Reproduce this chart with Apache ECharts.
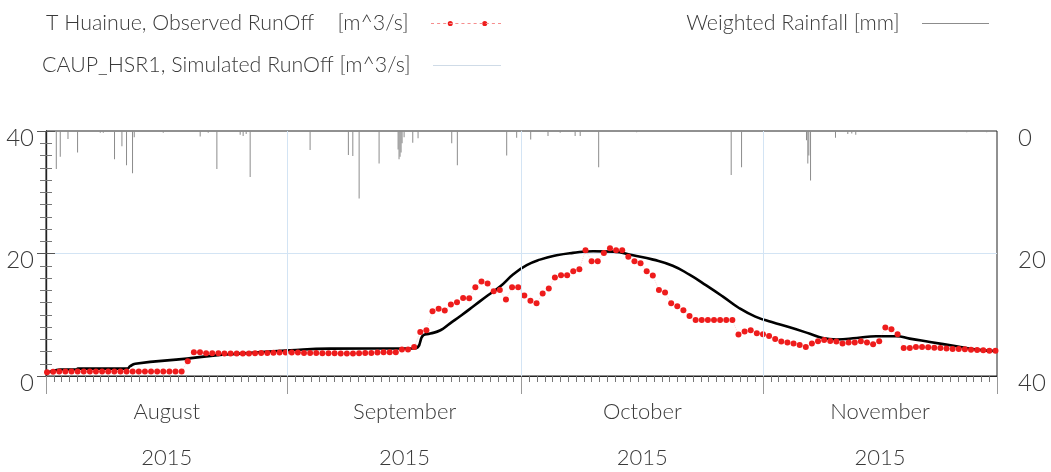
<!DOCTYPE html>
<html>
<head>
<meta charset="utf-8">
<script src="https://cdn.jsdelivr.net/npm/echarts@6/dist/echarts.min.js"></script>
<style>
html,body{margin:0;padding:0;background:#fff;}
#chart{width:1051px;height:472px;}
</style>
</head>
<body>
<div id="chart"></div>
<script>
// ---------- data ----------
const seriesNames = ['T Huainue, Observed RunOff    [m^3/s]', 'CAUP_HSR1, Simulated RunOff [m^3/s]', 'Weighted Rainfall [mm]'];
const monthLabels = ['August', 'September', 'October', 'November'];
const yearLabel = '2015';
const monthStarts = ['2015-08-01', '2015-09-01', '2015-10-01', '2015-11-01', '2015-12-01'];
const yTickLabels = [0, 20, 40];

// observed runoff: first sample (days after 1 Aug) and spacing between samples (days)
const obsStartDay = 0.13;
const obsStepDay = 0.785;
const observed = [
  0.6, 0.7, 0.75, 0.75, 0.75, 0.75, 0.75, 0.75, 0.75, 0.75,
  0.75, 0.75, 0.75, 0.75, 0.75, 0.75, 0.75, 0.75, 0.75, 0.75,
  0.75, 0.75, 0.75, 2.4, 3.87, 3.87, 3.7, 3.7, 3.7, 3.66,
  3.66, 3.66, 3.66, 3.66, 3.7, 3.75, 3.75, 3.8, 3.82, 3.82,
  3.82, 3.82, 3.77, 3.77, 3.77, 3.71, 3.71, 3.71, 3.66, 3.66,
  3.66, 3.71, 3.77, 3.77, 3.82, 3.87, 3.87, 3.87, 4.31, 4.31,
  4.74, 7.19, 7.47, 10.57, 11.0, 10.7, 11.66, 12.04, 12.75, 12.7,
  14.5, 15.42, 15.1, 13.84, 14.05, 12.48, 14.5, 14.5, 13.15, 12.3,
  11.88, 13.46, 14.28, 16.07, 16.44, 16.44, 17.1, 17.43, 20.54, 18.74,
  18.74, 20.1, 20.87, 20.54, 20.54, 19.45, 18.74, 18.41, 17.1, 16.4,
  14.05, 13.62, 11.88, 11.39, 10.74, 9.8, 9.15, 9.15, 9.15, 9.15,
  9.15, 9.15, 9.15, 6.76, 7.25, 7.47, 7.0, 6.8, 6.54, 6.05,
  5.62, 5.46, 5.29, 5.07, 4.74, 5.29, 5.67, 5.88, 5.72, 5.62,
  5.29, 5.46, 5.46, 5.67, 5.46, 5.18, 5.67, 7.9, 7.63, 6.81,
  4.58, 4.58, 4.74, 4.74, 4.69, 4.63, 4.58, 4.47, 4.41, 4.41,
  4.36, 4.3, 4.25, 4.2, 4.14, 4.14
];

// simulated runoff (days after 1 Aug, value)
const simDay = [0, 1.19, 1.8, 3.9, 4.1, 10.4, 10.8, 11.45, 18.1, 21.45, 24.9, 31.3, 36.4, 47.1, 47.7, 48.4, 49.3, 50.6, 51.8, 53.3, 55.0, 56.7, 58.25, 59.95, 61.67, 63.37, 65.5, 67.6, 70.2, 72.8, 75.3, 77.9, 80.4, 82.6, 84.7, 86.8, 88.9, 91.0, 93.1, 95.4, 98.0, 99.65, 101.4, 104.0, 106.5, 109.1, 110.8, 113.4, 116.8, 119.4, 121.9];
const simVal = [0.5, 0.93, 1.05, 1.05, 1.2, 1.2, 1.6, 2.0, 2.84, 3.33, 3.66, 4.2, 4.47, 4.5, 4.7, 6.65, 6.92, 7.47, 8.56, 9.92, 11.55, 13.18, 14.6, 16.6, 18.1, 19.0, 19.7, 20.1, 20.37, 20.3, 19.7, 19.0, 18.0, 16.5, 14.8, 13.0, 11.1, 9.7, 8.8, 7.95, 6.9, 6.2, 5.97, 6.2, 6.5, 6.5, 6.1, 5.56, 4.85, 4.3, 4.08];

// weighted rainfall (days after 1 Aug, mm)
const rainDay = [1.32, 1.83, 2.82, 4.05, 6.96, 7.35, 8.79, 9.74, 10.33, 11.1, 11.32, 15.04, 19.78, 20.81, 21.92, 24.91, 25.29, 25.68, 26.19, 33.88, 38.79, 39.36, 40.17, 42.73, 45.17, 45.29, 45.42, 45.55, 45.68, 45.94, 47.05, 47.73, 52.05, 52.77, 59.1, 60.38, 62.18, 64.4, 65.96, 67.88, 68.53, 70.9, 75.77, 87.9, 89.23, 97.56, 97.73, 97.86, 98.08, 101.28, 102.86, 103.37, 103.88, 118.12, 120.68];
const rainMm = [6.2, 4.2, 1.3, 3.5, 0.3, 0.3, 4.6, 2.5, 5.6, 6.9, 1.0, 0.3, 0.9, 0.3, 6.2, 0.6, 0.8, 0.5, 7.5, 3.1, 3.9, 4.1, 11.0, 5.3, 3.0, 4.6, 4.2, 3.5, 2.0, 1.0, 1.9, 1.2, 2.0, 5.6, 4.0, 1.1, 1.4, 0.8, 0.3, 0.8, 0.8, 5.9, 0.2, 7.2, 5.9, 1.5, 5.3, 4.0, 8.1, 1.1, 0.5, 0.4, 0.6, 0.2, 0.2];

// ---------- build (x axis = days after 1 Aug 2015) ----------
const DAY = 86400000;
function utc(s) { const p = s.split('-').map(Number); return Date.UTC(p[0], p[1] - 1, p[2]); }
const t0 = utc(monthStarts[0]);
const monthDays = monthStarts.map(s => Math.round((utc(s) - t0) / DAY));
const xMax = monthDays[monthDays.length - 1];
const midMonthDays = monthDays.slice(0, -1).map((d, i) => (d + monthDays[i + 1]) / 2);
const dayTicks = [];
for (let d = 0; d <= xMax; d++) dayTicks.push(d);

const obsData = observed.map((v, i) => [obsStartDay + i * obsStepDay, v]);
const simData = simDay.map((d, i) => [d, simVal[i]]);
const rainData = rainDay.map((d, i) => [d, rainMm[i]]);

const FONT = 'Lato';
const FW = 300;
const TXT = '#3a3a3a';
const GRIDC = '#d3e4f4';

let dashPath = '';
for (let x = 0; x < 70; x += 6) dashPath += 'M' + x + ',3.2h3v0.6h-3z';
const obsIcon = 'path://' + dashPath + 'M16.5,3.5a2.5,2.5 0 1,0 5,0a2.5,2.5 0 1,0 -5,0zM50.5,3.5a2.5,2.5 0 1,0 5,0a2.5,2.5 0 1,0 -5,0z';

const chart = echarts.init(document.getElementById('chart'), null, { renderer: 'canvas' });
const legendText = { fontFamily: FONT, fontWeight: FW, fontSize: 21.4, color: TXT };
const legendFmt = name => name + '   ';
chart.setOption({
  animation: false,
  backgroundColor: '#fff',
  legend: [
    { right: 545, top: 8, align: 'right', itemWidth: 70, itemHeight: 7, textStyle: legendText, formatter: legendFmt,
      data: [{ name: seriesNames[0], icon: obsIcon, itemStyle: { color: '#ee1c1c' } }] },
    { right: 545, top: 50, align: 'right', itemWidth: 68, itemHeight: 1, textStyle: legendText, formatter: legendFmt,
      data: [{ name: seriesNames[1], icon: 'rect', itemStyle: { color: '#cfdbe7' } }] },
    { right: 57, top: 8, align: 'right', itemWidth: 67, itemHeight: 1, textStyle: legendText, formatter: legendFmt,
      data: [{ name: seriesNames[2], icon: 'rect', itemStyle: { color: '#8c8c8c' } }] }
  ],
  grid: { left: 46, right: 54, top: 131, bottom: 96, show: true, borderColor: '#222', borderWidth: 1 },
  xAxis: [
    { type: 'value', min: 0, max: xMax, interval: 1, position: 'bottom',
      axisLine: { onZero: false, lineStyle: { color: '#222', width: 1.2 } },
      axisTick: { show: true, customValues: dayTicks, length: 6, lineStyle: { color: '#777' } },
      axisLabel: { show: false }, splitLine: { show: false } },
    { type: 'value', min: 0, max: xMax, position: 'bottom',
      axisLine: { show: false, onZero: false },
      axisTick: { show: true, customValues: monthDays, length: 18, lineStyle: { color: '#999' } },
      axisLabel: { show: true, customValues: midMonthDays, margin: 24, fontFamily: FONT, fontWeight: FW, fontSize: 22, lineHeight: 23, color: TXT,
        formatter: function (v) { const i = midMonthDays.indexOf(v); return i < 0 ? '' : monthLabels[i] + '\n\n' + yearLabel; } },
      splitLine: { show: false } }
  ],
  yAxis: [
    { type: 'value', min: 0, max: 40, interval: 20, position: 'left',
      axisLine: { show: true, lineStyle: { color: '#222', width: 1.2 } },
      axisTick: { show: true, length: 9, lineStyle: { color: '#555' } },
      minorTick: { show: true, splitNumber: 10, length: 6, lineStyle: { color: '#777' } },
      axisLabel: { fontFamily: FONT, fontWeight: FW, fontSize: 24, color: TXT, margin: 12, verticalAlign: 'top', lineHeight: 14,
        formatter: v => yTickLabels.includes(v) ? String(v) : '' },
      splitLine: { show: false } },
    { type: 'value', min: 0, max: 40, interval: 20, position: 'right', inverse: true,
      axisLine: { show: true, lineStyle: { color: '#222', width: 1.2 } },
      axisTick: { show: true, length: 9, lineStyle: { color: '#555' } },
      minorTick: { show: true, splitNumber: 10, length: 6, lineStyle: { color: '#777' } },
      axisLabel: { fontFamily: FONT, fontWeight: FW, fontSize: 24, color: TXT, margin: 21, verticalAlign: 'top', lineHeight: 14,
        formatter: v => yTickLabels.includes(v) ? String(v) : '' },
      splitLine: { show: false } }
  ],
  series: [
    { name: seriesNames[2], type: 'bar', xAxisIndex: 0, yAxisIndex: 1, data: rainData, barWidth: 1,
      itemStyle: { color: '#8c8c8c' }, z: 1, silent: true,
      markLine: { silent: true, symbol: 'none', label: { show: false },
        lineStyle: { color: GRIDC, width: 1, type: 'solid' },
        data: monthDays.slice(1, -1).map(d => ({ xAxis: d })) } },
    { name: seriesNames[1], type: 'line', xAxisIndex: 0, yAxisIndex: 0, data: simData,
      smooth: 0.5, showSymbol: false, symbol: 'none',
      lineStyle: { color: '#000', width: 2.6 }, itemStyle: { color: '#000' }, z: 3,
      markLine: { silent: true, symbol: 'none', label: { show: false },
        lineStyle: { color: GRIDC, width: 1, type: 'solid' }, z: 0,
        data: [{ yAxis: 20 }] } },
    { name: seriesNames[0], type: 'line', xAxisIndex: 0, yAxisIndex: 0, data: obsData,
      symbol: 'circle', symbolSize: 6, showAllSymbol: true,
      itemStyle: { color: '#ee1c1c' },
      lineStyle: { color: 'rgba(240,60,60,0.2)', width: 1, type: 'dotted' }, z: 4 }
  ]
});
</script>
</body>
</html>
